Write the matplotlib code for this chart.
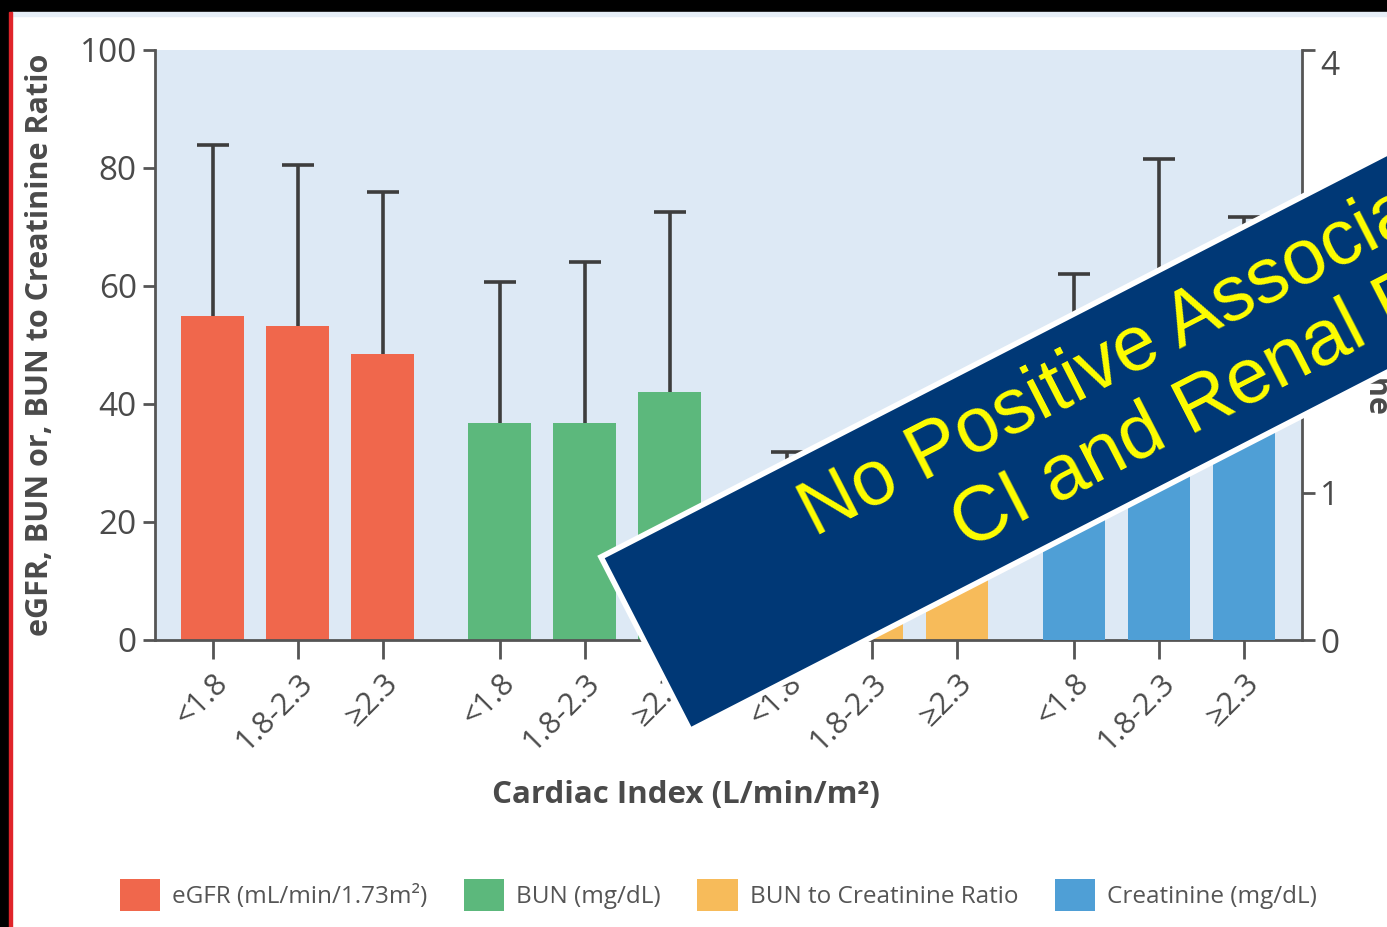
import numpy as np
import matplotlib.pyplot as plt
from matplotlib.patches import Patch, Polygon, Rectangle

# Cardiac index strata, repeated for each renal marker
ci_groups = ["<1.8", "1.8-2.3", "≥2.3"]

# Means and upper SD reach for each marker (left axis unless noted)
egfr_mean = [54.9, 53.2, 48.5]
egfr_sd = [29.0, 27.3, 27.4]
bun_mean = [36.8, 36.8, 42.0]
bun_sd = [23.9, 27.3, 30.5]
ratio_mean = [23.5, 22.5, 24.0]
ratio_sd = [8.4, 8.5, 9.0]
# creatinine is plotted against the right axis (mg/dL)
creat_mean = [1.60, 1.70, 1.55]
creat_sd = [0.88, 1.56, 1.32]

legend_labels = ["eGFR (mL/min/1.73m²)", "BUN (mg/dL)",
                 "BUN to Creatinine Ratio", "Creatinine (mg/dL)"]

C_EGFR = "#f0674c"
C_BUN = "#5cb87c"
C_RATIO = "#f7bb5a"
C_CREAT = "#4f9fd6"
C_BG = "#dde9f5"
C_AXIS = "#555555"
C_ERR = "#3d3d3d"
C_TEXT = "#4a4a4a"

W, H = 1387, 927
FONT = ["Open Sans", "DejaVu Sans"]

GROUP_STEP = 3.376
BAR_W = 0.74


def group_x(g):
    return np.arange(3) + g * GROUP_STEP


def px(x, y):
    """pixel position (origin top-left) -> figure fraction"""
    return x / W, 1 - y / H


def upper_bars(axis, x, mean, sd, color):
    """bars with a one-sided (upward) error whisker"""
    bars = axis.bar(x, mean, width=BAR_W, color=color, zorder=2,
                    yerr=[np.zeros(len(sd)), sd],
                    error_kw=dict(ecolor=C_ERR, elinewidth=2.6,
                                  capsize=11.5, capthick=2.6))
    # drop the cap that sits on the bar top
    for cap in bars.errorbar.lines[1]:
        if np.allclose(cap.get_ydata(), mean):
            cap.set_visible(False)
    return bars


fig = plt.figure(figsize=(W / 100, H / 100), dpi=100)
fig.patch.set_facecolor("white")

# frame strips along the top and left edges
fig.patches.append(Rectangle((0, 1 - 12 / H), 1, 12 / H, transform=fig.transFigure,
                             color="black", zorder=0))
fig.patches.append(Rectangle((12 / W, 1 - 16 / H), 1, 4 / H, transform=fig.transFigure,
                             color="#e6eef7", zorder=0))
fig.patches.append(Rectangle((0, 0), 9 / W, 1, transform=fig.transFigure,
                             color="black", zorder=0))
fig.patches.append(Rectangle((9 / W, 0), 2.5 / W, 1 - 12 / H, transform=fig.transFigure,
                             color="#e0242a", zorder=0))

l, t = px(155, 50)
r, b = px(1302, 640)
ax = fig.add_axes([l, b, r - l, t - b])
ax.set_facecolor(C_BG)

series = [(egfr_mean, egfr_sd, C_EGFR), (bun_mean, bun_sd, C_BUN),
          (ratio_mean, ratio_sd, C_RATIO)]
for g, (mean, sd, col) in enumerate(series):
    upper_bars(ax, group_x(g), mean, sd, col)

ax.set_xlim(-0.68, 12.81)
ax.set_ylim(0, 100)
ax.set_yticks(np.arange(0, 101, 20))

xt = np.concatenate([group_x(g) for g in range(4)])
ax.set_xticks(xt)
ax.set_xticklabels(ci_groups * 4, rotation=45, ha="right", va="top",
                   rotation_mode="anchor", family=FONT, fontsize=22, color=C_TEXT)
for lab in ax.get_yticklabels():
    lab.set_family(FONT)
ax.tick_params(axis="y", labelsize=24, labelcolor=C_TEXT, color=C_AXIS,
               length=9, width=2, pad=4)
ax.tick_params(axis="x", color=C_AXIS, length=14, width=2, pad=6)

for side in ("top", "right"):
    ax.spines[side].set_visible(False)
for side in ("left", "bottom"):
    ax.spines[side].set_color(C_AXIS)
    ax.spines[side].set_linewidth(2)

ax.set_ylabel("eGFR, BUN or, BUN to Creatinine Ratio", family=FONT,
              fontweight="bold", fontsize=22, color=C_TEXT, va="center")
ax.yaxis.set_label_coords(-0.1, 0.5)
ax.set_xlabel("Cardiac Index (L/min/m²)", family=FONT, fontweight="bold",
              fontsize=22.5, color=C_TEXT, va="center")
ax.xaxis.set_label_coords(0.463, -0.263)

# creatinine on its own scale
ax2 = ax.twinx()
upper_bars(ax2, group_x(3), creat_mean, creat_sd, C_CREAT)
ax2.set_ylim(0, 4)
ax2.set_yticks([0, 1, 2, 3, 4])
ax2.set_yticklabels(["0", "1", "2", "3", "4"], family=FONT, fontsize=24, color=C_TEXT)
ax2.get_yticklabels()[-1].set_va("top")
ax2.tick_params(axis="y", color=C_AXIS, length=9, width=2, pad=4)
for side in ("top", "left", "bottom"):
    ax2.spines[side].set_visible(False)
ax2.spines["right"].set_color(C_AXIS)
ax2.spines["right"].set_linewidth(2)
ax2.set_ylabel("Creatinine", rotation=270, family=FONT, fontweight="bold",
               fontsize=22, color=C_TEXT, va="center")
ax2.yaxis.set_label_coords(1.064, 0.515)

handles = [Patch(facecolor=c) for c in (C_EGFR, C_BUN, C_RATIO, C_CREAT)]
fig.legend(handles, legend_labels, loc="center", bbox_to_anchor=(0.518, 0.034),
           ncol=4, frameon=False, prop=dict(family=FONT, size=17.5),
           labelcolor="#555555", handlelength=1.65, handleheight=1.65,
           handletextpad=0.5, columnspacing=1.5)

# slanted banner across the right side
theta = np.deg2rad(27.2)
u = np.array([np.cos(theta), -np.sin(theta)])
n = np.array([np.sin(theta), np.cos(theta)])
A = np.array([601.0, 557.0])
band_w, band_len = 195.0, 1200.0
corners = [A, A + band_len * u, A + band_len * u + band_w * n, A + band_w * n]
fig.patches.append(Polygon([px(*c) for c in corners], closed=True,
                           transform=fig.transFigure, facecolor="#003876",
                           edgecolor="white", linewidth=4, zorder=10))
banner_lines = [("No Positive Association between", (815, 537)),
                ("CI and Renal Dysfunction", (967, 550))]
for txt, start in banner_lines:
    fig.text(*px(*start), txt, rotation=np.rad2deg(theta), rotation_mode="anchor",
             ha="left", va="baseline", family=["Liberation Sans", "DejaVu Sans"],
             fontsize=56, color="#ffff00", zorder=11)

fig.savefig("out.png", dpi=100)
